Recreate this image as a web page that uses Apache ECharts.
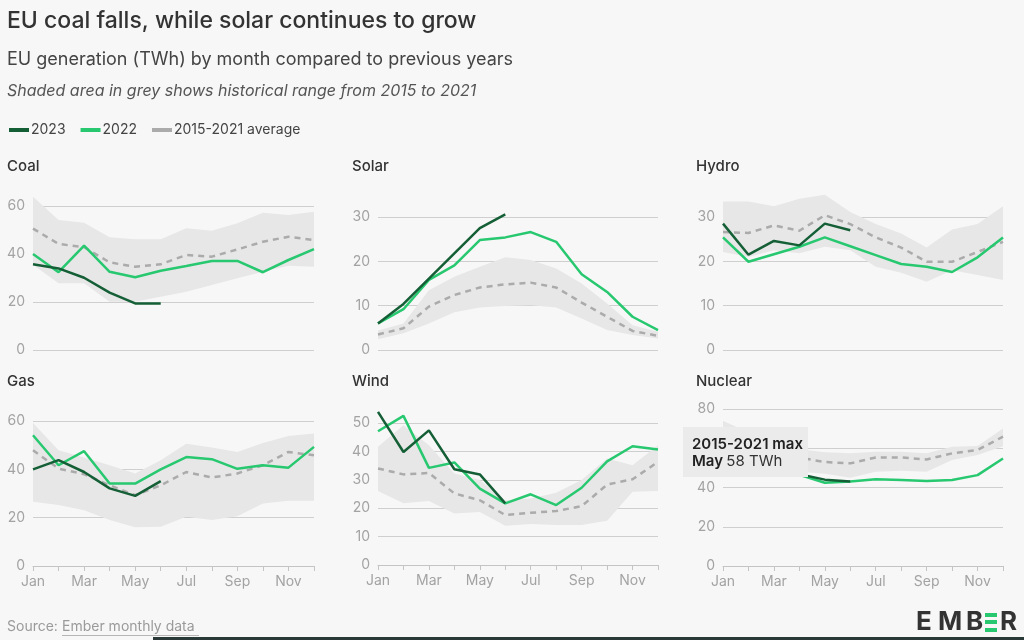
<!DOCTYPE html>
<html>
<head>
<meta charset="utf-8">
<script src="https://cdn.jsdelivr.net/npm/echarts@6/dist/echarts.min.js"></script>
<style>
html,body{margin:0;padding:0;background:#f7f7f7;}
#chart{width:1024px;height:640px;}
</style>
</head>
<body>
<div id="chart"></div>
<script>
const months = ['Jan','Feb','Mar','Apr','May','Jun','Jul','Aug','Sep','Oct','Nov','Dec'];

const coal2023 = [35.7,34,30.1,23.9,19.4,19.4];
const coal2022 = [40,32.4,43.5,32.6,30.3,33,35,37.1,37.1,32.4,37.5,42];
const coalAvg  = [50.6,44.2,42.8,36.5,34.7,35.7,39.6,38.9,41.9,45.1,47.2,45.8];
const coalMax  = [63.9,54.2,53,47,46.1,46.1,50.7,49.7,52.8,57.2,56.3,57.6];
const coalMin  = [35.5,27.8,27.8,20.1,20.1,22.2,24.3,27.1,29.9,32.6,35.1,34.7];

const solar2023 = [6,10.4,16.1,21.8,27.5,30.6];
const solar2022 = [6,9.2,15.8,19.1,24.8,25.4,26.6,24.4,17.1,13.1,7.5,4.5];
const solarAvg  = [3.5,4.9,9.8,12.4,14.1,14.8,15.2,14.1,10.7,7.5,4.3,3.2];
const solarMax  = [4.4,6,13.5,16.5,18.8,20.9,20.3,18.4,15,10.5,5.6,4.1];
const solarMin  = [2.4,3.8,6,8.5,9.6,9.9,10.1,9.6,7.1,4.5,3.4,2.6];

const hydro2023 = [28.5,21.5,24.6,23.6,28.5,27];
const hydro2022 = [25.4,19.9,21.6,23.3,25.4,23.4,21.4,19.4,18.8,17.6,20.9,25.4];
const hydroAvg  = [26.6,26.4,28.1,26.9,30.4,28.4,25.4,23.1,19.9,19.9,22.1,24.4];
const hydroMax  = [33.5,33.5,32.4,34.1,35,31.1,28.4,26.3,23.1,27.2,28.4,32.4];
const hydroMin  = [22.1,21,22.5,21.8,23.3,22.5,18.8,17.4,15.4,18,16.9,15.8];

const gas2023 = [40,43.8,38.9,32.1,29,35.1];
const gas2022 = [54.1,41.7,47.5,34.1,34.1,40,45.1,44.2,40.2,41.7,40.7,49.3];
const gasAvg  = [47.9,40.3,38,33.4,29.3,33.4,38.9,36.6,38.3,41.7,47.2,45.8];
const gasMax  = [59.2,47.9,44.9,41.7,38.3,43.8,50.6,49,47.2,50.9,53.8,54.8];
const gasMin  = [26.6,25.2,23.1,19,16,16.2,20.4,19,20.6,25.9,27,27];

const wind2023 = [53.9,39.8,47.4,33.7,31.9,21.7];
const wind2022 = [47.1,52.5,34.2,36.1,26.9,21.7,24.9,21.1,27.2,36.5,41.8,40.7];
const windAvg  = [34,31.9,32.4,25.2,22.8,17.6,18.4,19,20.7,28.3,30.2,36.3];
const windMax  = [41.6,49.2,42.2,32.2,29.9,22.8,23.4,25.4,29.9,37.5,35.1,42.2];
const windMin  = [26.1,21.7,22.5,18.1,18.7,13.8,14.4,14.1,14.1,15.6,25.8,26.1];

const nuclear2023 = [58,52,52,46.8,44,43];
const nuclear2022 = [62,55,55,46.5,42.4,43,44.2,43.8,43.3,43.8,46.3,54.8];
const nuclearAvg  = [70,64,62,55.2,53,52.3,55.3,55.3,54.3,57.4,59.1,65.9];
const nuclearMax  = [74,68,66,59.5,58,57.4,58.2,58.2,57.4,60.8,61.1,70.1];
const nuclearMin  = [65,60,57,48,47,45,48,48.5,48,54,56.5,61];

const panelNames = ['Coal','Solar','Hydro','Gas','Wind','Nuclear'];
const panelData = [
  [coal2023, coal2022, coalAvg, coalMax, coalMin],
  [solar2023, solar2022, solarAvg, solarMax, solarMin],
  [hydro2023, hydro2022, hydroAvg, hydroMax, hydroMin],
  [gas2023, gas2022, gasAvg, gasMax, gasMin],
  [wind2023, wind2022, windAvg, windMax, windMin],
  [nuclear2023, nuclear2022, nuclearAvg, nuclearMax, nuclearMin]
];
const yMax = [60,30,30,60,50,80];
const yStep = [20,10,10,20,10,20];

const tooltipTitle = '2015-2021 max';
const tooltipMonth = 'May';
const tooltipValue = '58 TWh';

// layout (pixels)
const gridBoxes = [
  {left:33, top:206, width:281, height:144},
  {left:378, top:217, width:280, height:133},
  {left:723, top:217, width:280, height:133},
  {left:33, top:421, width:281, height:145},
  {left:378, top:423, width:280, height:142},
  {left:723, top:409, width:280, height:157}
];
const titlePos = [[7,159],[352,159],[696,159],[7,374],[352,374],[696,374]];

const C23 = '#155f37', C22 = '#27c86f', CAVG = '#ababab', CBAND = '#e7e7e7';
const FONT = 'Inter, "Noto Sans", sans-serif';

const grids = [], xAxes = [], yAxes = [], series = [], graphics = [];
panelNames.forEach((name, i) => {
  const bottomRow = i >= 3;
  grids.push(Object.assign({containLabel:false}, gridBoxes[i]));
  xAxes.push({
    type:'category', gridIndex:i, data:months, boundaryGap:false,
    axisLine:{show:bottomRow, lineStyle:{color:'#c4c4c4', width:1}},
    axisTick:{show:bottomRow, interval:0, length:5, lineStyle:{color:'#c4c4c4'}},
    axisLabel:{show:bottomRow, interval:1, color:'#a3a3a3', fontSize:14, fontFamily:FONT, margin:9},
    splitLine:{show:false}
  });
  yAxes.push({
    type:'value', gridIndex:i, min:0, max:yMax[i], interval:yStep[i],
    axisLine:{show:false}, axisTick:{show:false},
    axisLabel:{color:'#a3a3a3', fontSize:14, fontFamily:FONT, margin:8},
    splitLine:{lineStyle:{color:'#cfcfcf', width:1}}
  });
  const [d23, d22, avg, mx, mn] = panelData[i];
  series.push({
    type:'line', xAxisIndex:i, yAxisIndex:i, data:mn, stack:'band'+i,
    symbol:'none', lineStyle:{opacity:0}, silent:true, clip:false, z:1
  });
  series.push({
    type:'line', xAxisIndex:i, yAxisIndex:i, data:mx.map((v,j)=>+(v-mn[j]).toFixed(2)), stack:'band'+i,
    symbol:'none', lineStyle:{opacity:0}, areaStyle:{color:CBAND, opacity:1}, silent:true, clip:false, z:1
  });
  series.push({
    name:'2015-2021 average', type:'line', xAxisIndex:i, yAxisIndex:i, data:avg,
    symbol:'none', color:CAVG, lineStyle:{color:CAVG, width:2.5, type:[6,5]}, clip:false, z:2
  });
  series.push({
    name:'2022', type:'line', xAxisIndex:i, yAxisIndex:i, data:d22,
    symbol:'none', color:C22, lineStyle:{color:C22, width:2.5}, clip:false, z:3
  });
  series.push({
    name:'2023', type:'line', xAxisIndex:i, yAxisIndex:i, data:d23,
    symbol:'none', color:C23, lineStyle:{color:C23, width:2.5}, clip:false, z:4
  });
  graphics.push({
    type:'text', left:titlePos[i][0], top:titlePos[i][1],
    style:{text:name, fill:'#333', font:'500 15px ' + FONT}
  });
});

// tooltip-like annotation in Nuclear panel (drawn on an upper layer)
graphics.push({type:'rect', zlevel:1, z:100, shape:{x:683, y:427, width:125, height:50}, style:{fill:'#ebebeb'}});
graphics.push({type:'text', zlevel:1, z:101, x:692, y:436, style:{
  text:'{b|' + tooltipTitle + '}\n{b|' + tooltipMonth + '} {n|' + tooltipValue + '}',
  rich:{
    b:{fontFamily:FONT, fontSize:15, fontWeight:600, fill:'#222', lineHeight:17},
    n:{fontFamily:FONT, fontSize:15, fontWeight:400, fill:'#333', lineHeight:17}
  }
}});

// footer
graphics.push({type:'text', left:7, top:620, style:{text:'Source:', fill:'#9a9a9a', font:'14px ' + FONT}});
graphics.push({type:'text', left:62, top:620, style:{text:'Ember monthly data', fill:'#9a9a9a', font:'14px ' + FONT}});
graphics.push({type:'rect', shape:{x:62, y:635, width:137, height:1}, style:{fill:'#b5b5b5'}});
const logoFont = 'bold 26px ' + FONT;
graphics.push({type:'text', left:916, top:609, style:{text:'E', fill:'#333', font:logoFont}});
graphics.push({type:'text', left:938, top:609, style:{text:'M', fill:'#333', font:logoFont}});
graphics.push({type:'text', left:966, top:609, style:{text:'B', fill:'#333', font:logoFont}});
graphics.push({type:'text', left:1000, top:609, style:{text:'R', fill:'#333', font:logoFont}});
graphics.push({type:'rect', shape:{x:985, y:613, width:12, height:4}, style:{fill:'#27c86f'}});
graphics.push({type:'rect', shape:{x:985, y:620, width:12, height:4}, style:{fill:'#27c86f'}});
graphics.push({type:'rect', shape:{x:985, y:628, width:12, height:4}, style:{fill:'#27c86f'}});
graphics.push({type:'rect', shape:{x:153, y:637, width:871, height:3}, style:{fill:'#2a3838'}});

const option = {
  backgroundColor:'#f7f7f7',
  animation:false,
  title:[
    {text:'EU coal falls, while solar continues to grow', left:2, top:5,
     textStyle:{fontFamily:FONT, fontSize:23, fontWeight:500, color:'#333'}},
    {text:'EU generation (TWh) by month compared to previous years', left:2, top:46,
     textStyle:{fontFamily:FONT, fontSize:18, fontWeight:400, color:'#444'}},
    {text:'Shaded area in grey shows historical range from 2015 to 2021', left:2, top:78,
     textStyle:{fontFamily:FONT, fontSize:16, fontWeight:400, fontStyle:'italic', color:'#555'}}
  ],
  legend:{
    data:['2023','2022','2015-2021 average'], left:4, top:118, icon:'rect',
    itemWidth:20, itemHeight:4, itemGap:15,
    textStyle:{fontFamily:FONT, fontSize:14, color:'#444', padding:[0,0,0,-3]}
  },
  grid:grids, xAxis:xAxes, yAxis:yAxes, series:series, graphic:graphics
};
const chart = echarts.init(document.getElementById('chart'), null, {renderer:'canvas'});
chart.setOption(option);
</script>
</body>
</html>
